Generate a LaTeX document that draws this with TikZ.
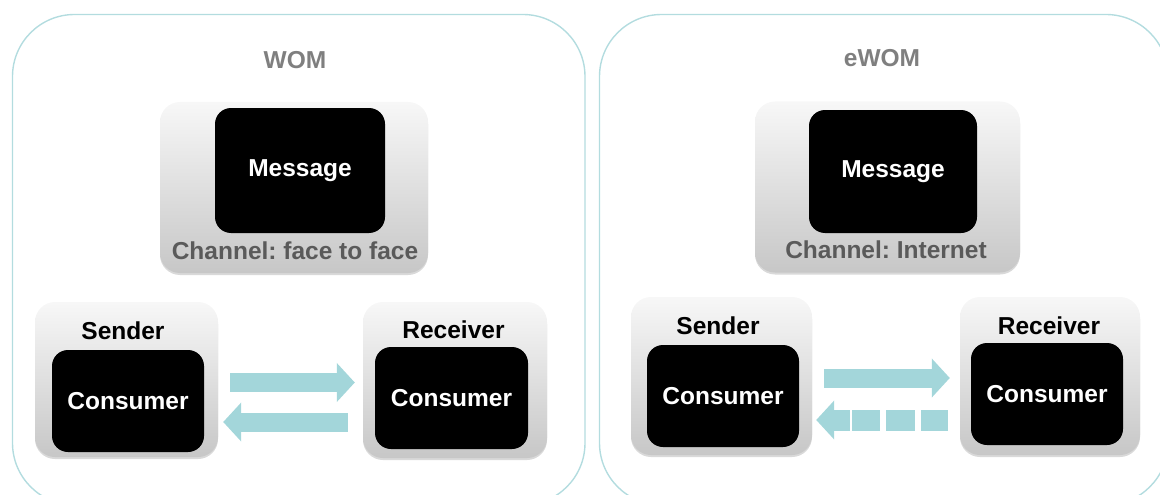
\documentclass[tikz,border=0pt]{standalone}
\usepackage{fontspec}
\setmainfont{Liberation Sans}
\usetikzlibrary{arrows.meta,shadows,positioning}
\definecolor{rim}{HTML}{B3DCDF}
\definecolor{flow}{HTML}{A3D6DA}
\definecolor{capt}{HTML}{7F7F7F}
\definecolor{chan}{HTML}{5A5A5A}
\frenchspacing
\begin{document}
\begin{tikzpicture}[x=1pt,y=-1pt,
	font=\fontsize{24.5}{29}\selectfont\bfseries,
	panel/.style={draw=rim,line width=1.4pt,rounded corners=62pt},
	tray/.style={rounded corners=20pt,top color=black!3,bottom color=black!22,
		drop shadow={opacity=.3,shadow xshift=0pt,shadow yshift=-2pt}},
	core/.style={fill=black,rounded corners=16pt,text=white,inner sep=0pt},
	flowarrow/.style={draw=flow,line width=19pt,-{Triangle[width=38pt,length=18pt]}}]
	\useasboundingbox (0,0) rectangle (1160,495);
	\clip (0,0) rectangle (1160,495);
	% two panels
	\draw[panel] (12.5,14.5) rectangle (585,505);
	\draw[panel] (599.5,14.5) rectangle (1168,505);
	\node[text=capt] (womT) at (295,60) {WOM};
	\node[text=capt] (ewomT) at (882,58) {eWOM};
	% WOM
	\node[tray,minimum width=268pt,minimum height=171pt] (msgL) at (294,187.5) {};
	\node[core,minimum width=170pt,minimum height=125pt] (msgLc) at (300,170.5) {Message};
	\node[text=chan] (chanL) at (295,251) {Channel: face to face};
	\node[tray,minimum width=183pt,minimum height=155pt] (sendL) at (126.5,379.5) {};
	\node[tray,minimum width=184pt,minimum height=156pt] (recvL) at (455,380) {};
	\node[core,minimum width=152pt,minimum height=102pt] (sendLc) at (128,401) {Consumer};
	\node[core,minimum width=153pt,minimum height=102pt] (recvLc) at (451.5,398) {Consumer};
	\node (sendLt) at (123,331) {Sender};
	\node (recvLt) at (453.5,330) {Receiver};
	\draw[flowarrow,shorten <=12pt,shorten >=8pt] ([yshift=-3pt]sendL.east) -- ([yshift=-3pt]sendL.east -| recvL.west);
	\draw[flowarrow,shorten <=15pt,shorten >=5pt] ([yshift=-42pt]recvL.west) -- ([yshift=-42pt]recvL.west -| sendL.east);
	% eWOM
	\node[tray,minimum width=265pt,minimum height=171pt] (msgR) at (887.5,187) {};
	\node[core,minimum width=168pt,minimum height=123pt] (msgRc) at (893,171.5) {Message};
	\node[text=chan] (chanR) at (886,250) {Channel: Internet};
	\node[tray,minimum width=181pt,minimum height=158pt] (sendR) at (721.5,376) {};
	\node[tray,minimum width=180pt,minimum height=158pt] (recvR) at (1050,376) {};
	\node[core,minimum width=152pt,minimum height=102pt] (sendRc) at (723,396) {Consumer};
	\node[core,minimum width=152pt,minimum height=102pt] (recvRc) at (1047,394) {Consumer};
	\node (sendRt) at (718,326) {Sender};
	\node (recvRt) at (1049,326) {Receiver};
	\draw[flowarrow,shorten <=12pt,shorten >=10pt] ([yshift=-2pt]sendR.east) -- ([yshift=-2pt]sendR.east -| recvR.west);
	\draw[flowarrow,line width=21pt,dash pattern=on 27pt off 6pt on 29pt off 6pt on 28pt off 2pt on 40pt,
		shorten <=12pt,shorten >=4pt] ([yshift=-44pt]recvR.west) -- ([yshift=-44pt]recvR.west -| sendR.east);
\end{tikzpicture}
\end{document}
